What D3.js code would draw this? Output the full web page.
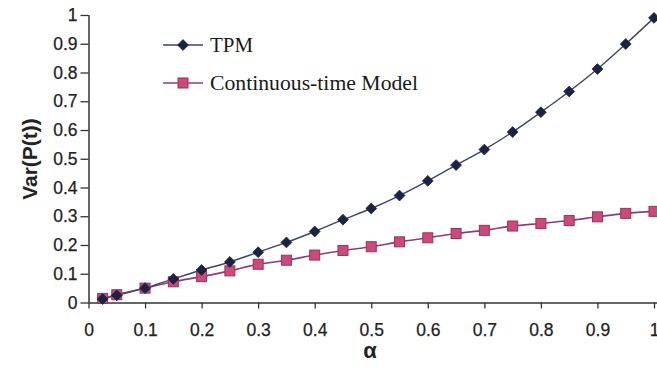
<!DOCTYPE html>
<html>
<head>
<meta charset="utf-8">
<script src="https://cdn.jsdelivr.net/npm/d3@7"></script>
<style>
  html, body { margin: 0; padding: 0; background: #fff; }
  svg { display: block; }
</style>
</head>
<body>
<svg id="chart" width="657" height="381"></svg>
<script>
// alpha values at which both models were evaluated
const alphas = [0.025, 0.05, 0.1, 0.15, 0.2, 0.25, 0.3, 0.35, 0.4, 0.45, 0.5,
                0.55, 0.6, 0.65, 0.7, 0.75, 0.8, 0.85, 0.9, 0.95, 1.0];
// Var(P(t)) for the TPM
const tpmValues = [0.012, 0.025, 0.05, 0.082, 0.113, 0.141, 0.175, 0.209, 0.247, 0.288, 0.327,
                   0.372, 0.423, 0.478, 0.532, 0.593, 0.662, 0.734, 0.812, 0.899, 0.99];
// Var(P(t)) for the continuous-time model
const contValues = [0.014, 0.027, 0.05, 0.072, 0.09, 0.110, 0.133, 0.147, 0.165, 0.181, 0.194,
                    0.211, 0.225, 0.240, 0.251, 0.266, 0.275, 0.285, 0.298, 0.310, 0.317];
const xTicks = [0, 0.1, 0.2, 0.3, 0.4, 0.5, 0.6, 0.7, 0.8, 0.9, 1];
const yTicks = [0, 0.1, 0.2, 0.3, 0.4, 0.5, 0.6, 0.7, 0.8, 0.9, 1];
const seriesNames = ["TPM", "Continuous-time Model"];

const svg = d3.select("#chart");
const x = d3.scaleLinear().domain([0, 1]).range([88.5, 654]);
const y = d3.scaleLinear().domain([0, 1]).range([302.5, 15]);

const axisColor = "#333";
const tickFont = "Arial, 'Liberation Sans', sans-serif";

// x axis
const xAxis = svg.append("g")
  .attr("transform", `translate(0,${y(0)})`)
  .call(d3.axisBottom(x).tickValues(xTicks).tickSize(6).tickPadding(15)
        .tickFormat(d => d3.format("")(d)));
xAxis.select(".domain").attr("d", `M${x(0)},0.5H657`);
// y axis
const yAxis = svg.append("g")
  .attr("transform", `translate(${x(0)},0)`)
  .call(d3.axisLeft(y).tickValues(yTicks).tickSize(8).tickPadding(3)
        .tickFormat(d => d3.format("")(d)));
yAxis.select(".domain").attr("d", `M0.5,${y(1)}V${y(0)}`);

[xAxis, yAxis].forEach(g => {
  g.select(".domain").attr("stroke", axisColor).attr("stroke-width", 1.5);
  g.selectAll(".tick line").attr("stroke", axisColor).attr("stroke-width", 1.3);
  g.selectAll(".tick text")
    .attr("fill", "#222")
    .attr("stroke", "#222").attr("stroke-width", 0.25)
    .style("font-family", tickFont)
    .style("font-size", "17.5px");
});

// series
const tpm = alphas.map((a, i) => [a, tpmValues[i]]);
const cont = alphas.map((a, i) => [a, contValues[i]]);
const line = d3.line().x(d => x(d[0])).y(d => y(d[1])).curve(d3.curveCatmullRom.alpha(0.5));

const tpmLine = "#3e4566", tpmMark = "#1c2242";
const contLine = "#8e3a7c", contFill = "#cc4a7a", contStroke = "#99305f";

svg.append("path").datum(cont).attr("d", line)
  .attr("fill", "none").attr("stroke", contLine).attr("stroke-width", 1.6);
svg.append("path").datum(tpm).attr("d", line)
  .attr("fill", "none").attr("stroke", tpmLine).attr("stroke-width", 1.4);

const sq = 10;
svg.append("g").selectAll("rect").data(cont).join("rect")
  .attr("x", d => x(d[0]) - sq / 2).attr("y", d => y(d[1]) - sq / 2)
  .attr("width", sq).attr("height", sq)
  .attr("fill", contFill).attr("stroke", contStroke).attr("stroke-width", 1);

const diamond = d3.symbol().type(d3.symbolDiamond2).size(75);
svg.append("g").selectAll("path").data(tpm).join("path")
  .attr("d", diamond)
  .attr("transform", d => `translate(${x(d[0])},${y(d[1])})`)
  .attr("fill", tpmMark).attr("stroke", tpmMark).attr("stroke-width", 0.8);

// legend
const legend = svg.append("g");
const legendRows = [
  { name: seriesNames[0], yPos: 45, kind: "diamond", width: 43 },
  { name: seriesNames[1], yPos: 83, kind: "square", width: 208 }
];
legendRows.forEach(r => {
  legend.append("line").attr("x1", 163).attr("x2", 203).attr("y1", r.yPos).attr("y2", r.yPos)
    .attr("stroke", r.kind === "diamond" ? tpmLine : contLine).attr("stroke-width", 1.5);
  if (r.kind === "diamond") {
    legend.append("path").attr("d", diamond).attr("transform", `translate(183,${r.yPos})`)
      .attr("fill", tpmMark).attr("stroke", tpmMark).attr("stroke-width", 0.8);
  } else {
    legend.append("rect").attr("x", 183 - sq / 2).attr("y", r.yPos - sq / 2)
      .attr("width", sq).attr("height", sq)
      .attr("fill", contFill).attr("stroke", contStroke).attr("stroke-width", 1);
  }
  legend.append("text").attr("x", 210).attr("y", r.yPos + 7)
    .attr("fill", "#1a1a1a")
    .attr("textLength", r.width).attr("lengthAdjust", "spacingAndGlyphs")
    .style("font-family", "'Liberation Serif', 'Times New Roman', serif")
    .style("font-size", "20.5px")
    .text(r.name);
});

// axis titles
svg.append("text")
  .attr("transform", "translate(37,159) rotate(-90)")
  .attr("text-anchor", "middle")
  .attr("fill", "#222")
  .style("font-family", tickFont).style("font-weight", "bold").style("font-size", "21px")
  .text("Var(P(t))");
svg.append("text")
  .attr("x", 370).attr("y", 358)
  .attr("text-anchor", "middle")
  .attr("fill", "#222")
  .style("font-family", tickFont).style("font-weight", "bold").style("font-size", "22px")
  .text("α");
</script>
</body>
</html>
